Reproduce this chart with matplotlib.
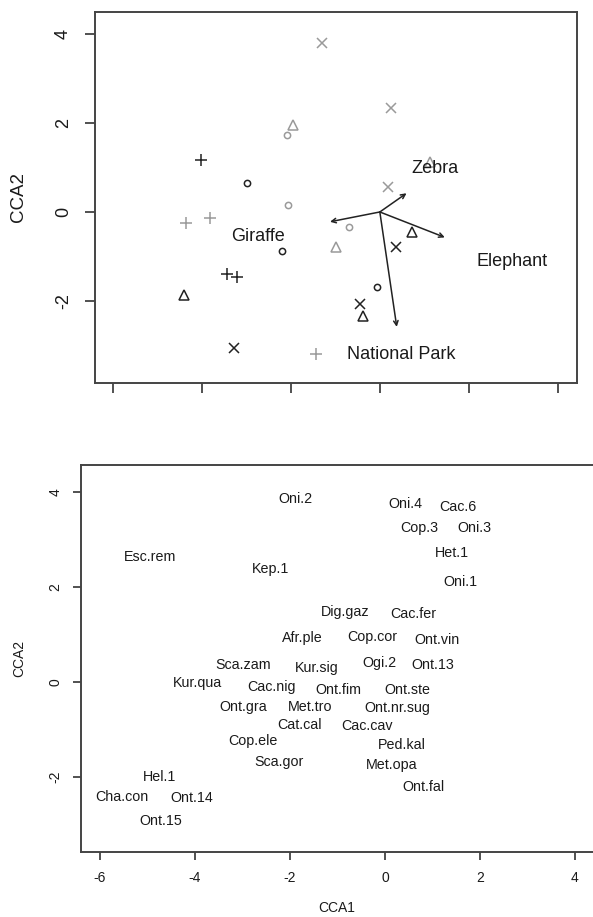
import matplotlib
matplotlib.use("Agg")
import matplotlib.pyplot as plt

plt.rcParams['font.family'] = ['Liberation Sans', 'DejaVu Sans']

# ---- top panel: site scores ----
groups = ["black_plus", "gray_plus", "black_o", "gray_o",
          "black_tri", "gray_tri", "black_x", "gray_x"]
site_x = {
    "black_plus": [-4.02, -3.44, -3.21],
    "gray_plus": [-4.36, -3.82, -1.44],
    "black_o": [-2.99, -2.20, -0.07],
    "gray_o": [-2.09, -2.07, -0.70],
    "black_tri": [-4.40, 0.72, -0.38],
    "gray_tri": [-1.95, -0.99, 1.12],
    "black_x": [-3.28, 0.36, -0.45],
    "gray_x": [-1.30, 0.25, 0.18],
}
site_y = {
    "black_plus": [1.17, -1.39, -1.45],
    "gray_plus": [-0.25, -0.14, -3.18],
    "black_o": [0.65, -0.88, -1.68],
    "gray_o": [1.73, 0.16, -0.33],
    "black_tri": [-1.87, -0.44, -2.34],
    "gray_tri": [1.96, -0.78, 1.12],
    "black_x": [-3.06, -0.78, -2.07],
    "gray_x": [3.80, 2.34, 0.56],
}

env_names = ["Zebra", "Giraffe", "Elephant", "National Park"]
env_x = [0.60, -1.12, 1.46, 0.38]
env_y = [0.42, -0.22, -0.57, -2.58]
env_lab_x = [1.24, -2.74, 2.97, 0.47]
env_lab_y = [0.98, -0.56, -1.12, -3.20]

# ---- bottom panel: species scores ----
species = ["Oni.2", "Oni.4", "Cac.6", "Cop.3", "Oni.3", "Het.1", "Oni.1",
           "Esc.rem", "Kep.1", "Dig.gaz", "Cac.fer", "Afr.ple", "Cop.cor",
           "Ont.vin", "Sca.zam", "Kur.sig", "Ogi.2", "Ont.13", "Kur.qua",
           "Cac.nig", "Ont.fim", "Ont.ste", "Ont.gra", "Met.tro", "Ont.nr.sug",
           "Cat.cal", "Cac.cav", "Cop.ele", "Ped.kal", "Sca.gor", "Met.opa",
           "Ont.fal", "Hel.1", "Cha.con", "Ont.14", "Ont.15"]
sp_x = [-1.89, 0.42, 1.54, 0.72, 1.89, 1.41, 1.58,
        -4.95, -2.40, -0.84, 0.59, -1.75, -0.27,
        1.09, -2.99, -1.43, -0.11, 1.01, -3.94,
        -2.38, -0.99, 0.48, -2.99, -1.58, 0.27,
        -1.79, -0.38, -2.78, 0.36, -2.23, 0.15,
        0.80, -4.74, -5.54, -4.06, -4.72]
sp_y = [3.85, 3.75, 3.68, 3.24, 3.24, 2.72, 2.11,
        2.63, 2.38, 1.47, 1.43, 0.93, 0.95,
        0.88, 0.36, 0.29, 0.40, 0.36, -0.02,
        -0.11, -0.17, -0.17, -0.53, -0.53, -0.55,
        -0.91, -0.93, -1.24, -1.33, -1.68, -1.75,
        -2.21, -2.00, -2.42, -2.44, -2.93]

ticks_x = [-6, -4, -2, 0, 2, 4]
ticks_y = [-2, 0, 2, 4]

styles = {
    "black_plus": ("+", "#222222", 9),
    "gray_plus": ("+", "#9a9a9a", 9),
    "black_o": ("o", "#222222", 4.5),
    "gray_o": ("o", "#9a9a9a", 4.5),
    "black_tri": ("^", "#222222", 7),
    "gray_tri": ("^", "#9a9a9a", 7),
    "black_x": ("x", "#222222", 7),
    "gray_x": ("x", "#9a9a9a", 7),
}

W, H = 593, 917
fig = plt.figure(figsize=(W / 100, H / 100), dpi=100)

# top panel
ax1 = fig.add_axes([95 / W, 1 - 383 / H, 482 / W, 371 / H])
for g in groups:
    m, c, s = styles[g]
    if m in ("+", "x"):
        ax1.plot(site_x[g], site_y[g], ls="none", marker=m, color=c, ms=s, mew=1.1)
    else:
        ax1.plot(site_x[g], site_y[g], ls="none", marker=m, mfc="none", mec=c, ms=s, mew=1.1)
for i in range(len(env_names)):
    ax1.annotate("", xy=(env_x[i], env_y[i]), xytext=(0, 0),
                 arrowprops=dict(arrowstyle="->", color="#222222", lw=1.1,
                                 shrinkA=0, shrinkB=0, mutation_scale=8))
    ax1.text(env_lab_x[i], env_lab_y[i], env_names[i], ha="center", va="center",
             fontsize=13, color="#1a1a1a")
ax1.set_xlim(-6.40, 4.43)
ax1.set_ylim(-3.84, 4.49)
ax1.set_xticks(ticks_x)
ax1.set_xticklabels([])
ax1.set_yticks(ticks_y)
ax1.set_yticklabels([str(t) for t in ticks_y], rotation=90, va="center", fontsize=13)
ax1.tick_params(length=7, width=1.2, color="#333333", pad=9.5, labelcolor="#1a1a1a")
ax1.set_ylabel("CCA2", fontsize=13.5, color="#1a1a1a", labelpad=20)
for sp in ax1.spines.values():
    sp.set_color("#444444")
    sp.set_linewidth(1.4)

# bottom panel
ax2 = fig.add_axes([81 / W, 1 - 852 / H, 512 / W, 387 / H])
for i in range(len(species)):
    ax2.text(sp_x[i], sp_y[i], species[i], ha="center", va="center",
             fontsize=10.3, color="#1a1a1a")
ax2.set_xlim(-6.40, 4.38)
ax2.set_ylim(-3.58, 4.57)
ax2.set_xticks(ticks_x)
ax2.set_xticklabels([str(t) for t in ticks_x], fontsize=10)
ax2.set_yticks(ticks_y)
ax2.set_yticklabels([str(t) for t in ticks_y], rotation=90, va="center", fontsize=10)
ax2.tick_params(length=6, width=1.2, color="#333333", pad=7.5, labelcolor="#1a1a1a")
ax2.set_xlabel("CCA1", fontsize=10, color="#1a1a1a", labelpad=12)
ax2.set_ylabel("CCA2", fontsize=10, color="#1a1a1a", labelpad=16)
ax2.spines["right"].set_visible(False)
for sp in ax2.spines.values():
    sp.set_color("#444444")
    sp.set_linewidth(1.4)

fig.savefig("out.png", dpi=100)
